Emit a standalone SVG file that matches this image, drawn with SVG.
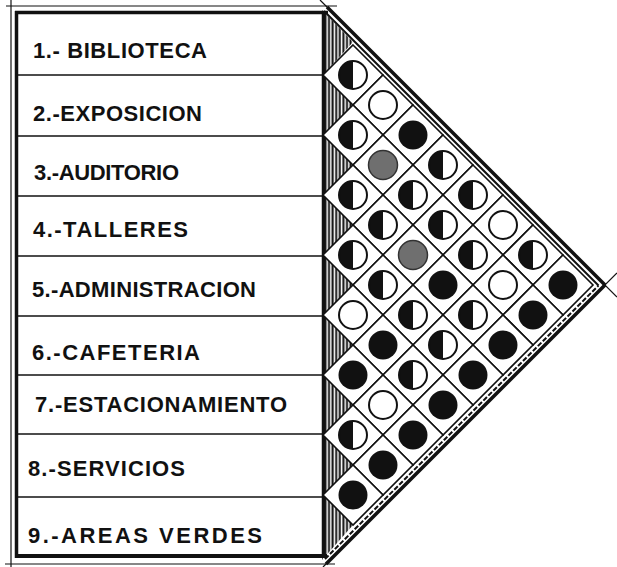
<svg xmlns="http://www.w3.org/2000/svg" xmlns:xlink="http://www.w3.org/1999/xlink" width="617" height="567" viewBox="0 0 617 567">
<style>
.thin{stroke:#111;stroke-width:1.2;fill:none}
.thick{stroke:#111;stroke-width:3.5;fill:none}
.row{stroke:#111;stroke-width:1.5;fill:none}
.d{fill:#fff;stroke:#111;stroke-width:1.6}
.lbl{font-family:"Liberation Sans",Arial,sans-serif;font-weight:bold;font-size:22px;fill:#111}
</style>
<defs>
<pattern id="hatch" patternUnits="userSpaceOnUse" width="3.6" height="10">
<rect width="3.6" height="10" fill="#fff"/>
<line x1="1.4" y1="0" x2="1.4" y2="10" stroke="#111" stroke-width="2"/>
</pattern>
<g id="B"><circle r="14.5" fill="#111"/></g>
<g id="H"><path d="M0,-14 A14,14 0 0 0 0,14 Z" fill="#111"/><circle r="14" fill="none" stroke="#111" stroke-width="2"/></g>
<g id="W"><circle r="14" fill="#fff" stroke="#111" stroke-width="2"/></g>
<g id="G"><circle r="14.5" fill="#6f6f6f" stroke="#333" stroke-width="1.5"/></g>
</defs>
<rect width="617" height="567" fill="#fff"/>

<!-- hatched strip -->
<polygon fill="url(#hatch)" points="322,10 353,42 323,75 353,105 323,135 353,165 323,195 353,225 323,255 353,285 323,315 353,345 323,375 353,405 323,435 353,465 323,495 353,525 322,560"/>

<!-- table frame -->
<g id="frame">
<line class="thin" x1="11" y1="0" x2="11" y2="567"/>
<line class="thin" x1="6" y1="6" x2="337" y2="6"/>
<line class="thin" x1="5" y1="564" x2="335" y2="564"/>
<line class="thick" x1="16.5" y1="11" x2="16.5" y2="558"/>
<line class="thick" x1="15" y1="12.5" x2="328" y2="12.5"/>
<line class="thick" x1="323.5" y1="11" x2="323.5" y2="558"/>
<line class="thick" x1="15" y1="556" x2="327" y2="556" style="stroke-width:4"/>
<line class="row" x1="18" y1="75" x2="322" y2="75"/>
<line class="row" x1="18" y1="136" x2="322" y2="136"/>
<line class="row" x1="18" y1="196" x2="322" y2="196"/>
<line class="row" x1="18" y1="256" x2="322" y2="256"/>
<line class="row" x1="18" y1="316" x2="322" y2="316"/>
<line class="row" x1="18" y1="375" x2="322" y2="375"/>
<line class="row" x1="18" y1="434" x2="322" y2="434"/>
<line class="row" x1="18" y1="497" x2="322" y2="497"/>
</g>

<!-- labels -->
<g id="n1"><text class="lbl" x="33" y="58" textLength="174" lengthAdjust="spacing">1.- BIBLIOTECA</text></g>
<g id="n2"><text class="lbl" x="33" y="121" textLength="169" lengthAdjust="spacing">2.-EXPOSICION</text></g>
<g id="n3"><text class="lbl" x="34" y="180" textLength="145" lengthAdjust="spacing">3.-AUDITORIO</text></g>
<g id="n4"><text class="lbl" x="33" y="237" textLength="155" lengthAdjust="spacing">4.-TALLERES</text></g>
<g id="n5"><text class="lbl" x="32" y="297" textLength="224" lengthAdjust="spacing">5.-ADMINISTRACION</text></g>
<g id="n6"><text class="lbl" x="32" y="360" textLength="168" lengthAdjust="spacing">6.-CAFETERIA</text></g>
<g id="n7"><text class="lbl" x="35" y="412" textLength="252" lengthAdjust="spacing">7.-ESTACIONAMIENTO</text></g>
<g id="n8"><text class="lbl" x="28" y="476" textLength="157" lengthAdjust="spacing">8.-SERVICIOS</text></g>
<g id="n9"><text class="lbl" x="28" y="543" textLength="234" lengthAdjust="spacing">9.-AREAS VERDES</text></g>

<!-- matrix cells -->
<g id="cells">
<g id="c1-2" transform="translate(353,75)"><polygon class="d" points="0,-30 30,0 0,30 -30,0"/><use xlink:href="#H"/></g>
<g id="c1-3" transform="translate(383,105)"><polygon class="d" points="0,-30 30,0 0,30 -30,0"/><use xlink:href="#W"/></g>
<g id="c1-4" transform="translate(413,135)"><polygon class="d" points="0,-30 30,0 0,30 -30,0"/><use xlink:href="#B"/></g>
<g id="c1-5" transform="translate(443,165)"><polygon class="d" points="0,-30 30,0 0,30 -30,0"/><use xlink:href="#H"/></g>
<g id="c1-6" transform="translate(473,195)"><polygon class="d" points="0,-30 30,0 0,30 -30,0"/><use xlink:href="#H"/></g>
<g id="c1-7" transform="translate(503,225)"><polygon class="d" points="0,-30 30,0 0,30 -30,0"/><use xlink:href="#W"/></g>
<g id="c1-8" transform="translate(533,255)"><polygon class="d" points="0,-30 30,0 0,30 -30,0"/><use xlink:href="#H"/></g>
<g id="c1-9" transform="translate(563,285)"><polygon class="d" points="0,-30 30,0 0,30 -30,0"/><use xlink:href="#B"/></g>
<g id="c2-3" transform="translate(353,135)"><polygon class="d" points="0,-30 30,0 0,30 -30,0"/><use xlink:href="#H"/></g>
<g id="c2-4" transform="translate(383,165)"><polygon class="d" points="0,-30 30,0 0,30 -30,0"/><use xlink:href="#G"/></g>
<g id="c2-5" transform="translate(413,195)"><polygon class="d" points="0,-30 30,0 0,30 -30,0"/><use xlink:href="#H"/></g>
<g id="c2-6" transform="translate(443,225)"><polygon class="d" points="0,-30 30,0 0,30 -30,0"/><use xlink:href="#H"/></g>
<g id="c2-7" transform="translate(473,255)"><polygon class="d" points="0,-30 30,0 0,30 -30,0"/><use xlink:href="#H"/></g>
<g id="c2-8" transform="translate(503,285)"><polygon class="d" points="0,-30 30,0 0,30 -30,0"/><use xlink:href="#W"/></g>
<g id="c2-9" transform="translate(533,315)"><polygon class="d" points="0,-30 30,0 0,30 -30,0"/><use xlink:href="#B"/></g>
<g id="c3-4" transform="translate(353,195)"><polygon class="d" points="0,-30 30,0 0,30 -30,0"/><use xlink:href="#H"/></g>
<g id="c3-5" transform="translate(383,225)"><polygon class="d" points="0,-30 30,0 0,30 -30,0"/><use xlink:href="#H"/></g>
<g id="c3-6" transform="translate(413,255)"><polygon class="d" points="0,-30 30,0 0,30 -30,0"/><use xlink:href="#G"/></g>
<g id="c3-7" transform="translate(443,285)"><polygon class="d" points="0,-30 30,0 0,30 -30,0"/><use xlink:href="#B"/></g>
<g id="c3-8" transform="translate(473,315)"><polygon class="d" points="0,-30 30,0 0,30 -30,0"/><use xlink:href="#H"/></g>
<g id="c3-9" transform="translate(503,345)"><polygon class="d" points="0,-30 30,0 0,30 -30,0"/><use xlink:href="#B"/></g>
<g id="c4-5" transform="translate(353,255)"><polygon class="d" points="0,-30 30,0 0,30 -30,0"/><use xlink:href="#H"/></g>
<g id="c4-6" transform="translate(383,285)"><polygon class="d" points="0,-30 30,0 0,30 -30,0"/><use xlink:href="#H"/></g>
<g id="c4-7" transform="translate(413,315)"><polygon class="d" points="0,-30 30,0 0,30 -30,0"/><use xlink:href="#H"/></g>
<g id="c4-8" transform="translate(443,345)"><polygon class="d" points="0,-30 30,0 0,30 -30,0"/><use xlink:href="#H"/></g>
<g id="c4-9" transform="translate(473,375)"><polygon class="d" points="0,-30 30,0 0,30 -30,0"/><use xlink:href="#B"/></g>
<g id="c5-6" transform="translate(353,315)"><polygon class="d" points="0,-30 30,0 0,30 -30,0"/><use xlink:href="#W"/></g>
<g id="c5-7" transform="translate(383,345)"><polygon class="d" points="0,-30 30,0 0,30 -30,0"/><use xlink:href="#B"/></g>
<g id="c5-8" transform="translate(413,375)"><polygon class="d" points="0,-30 30,0 0,30 -30,0"/><use xlink:href="#H"/></g>
<g id="c5-9" transform="translate(443,405)"><polygon class="d" points="0,-30 30,0 0,30 -30,0"/><use xlink:href="#B"/></g>
<g id="c6-7" transform="translate(353,375)"><polygon class="d" points="0,-30 30,0 0,30 -30,0"/><use xlink:href="#B"/></g>
<g id="c6-8" transform="translate(383,405)"><polygon class="d" points="0,-30 30,0 0,30 -30,0"/><use xlink:href="#W"/></g>
<g id="c6-9" transform="translate(413,435)"><polygon class="d" points="0,-30 30,0 0,30 -30,0"/><use xlink:href="#B"/></g>
<g id="c7-8" transform="translate(353,435)"><polygon class="d" points="0,-30 30,0 0,30 -30,0"/><use xlink:href="#H"/></g>
<g id="c7-9" transform="translate(383,465)"><polygon class="d" points="0,-30 30,0 0,30 -30,0"/><use xlink:href="#B"/></g>
<g id="c8-9" transform="translate(353,495)"><polygon class="d" points="0,-30 30,0 0,30 -30,0"/><use xlink:href="#B"/></g>
</g>

<!-- triangle border bands -->
<g id="connectors">
<line class="thin" x1="320" y1="0" x2="617" y2="297"/>
<line class="thick" x1="327" y1="7" x2="605" y2="285"/>
<line x1="324" y1="11" x2="598.5" y2="285.5" stroke="#111" stroke-width="2"/>
<line class="thin" x1="323" y1="567" x2="617" y2="273"/>
<line class="thick" x1="326" y1="564" x2="605" y2="285"/>
<line x1="325" y1="559" x2="598.5" y2="285.5" stroke="#111" stroke-width="2" stroke-dasharray="5 2"/>
</g>
</svg>
